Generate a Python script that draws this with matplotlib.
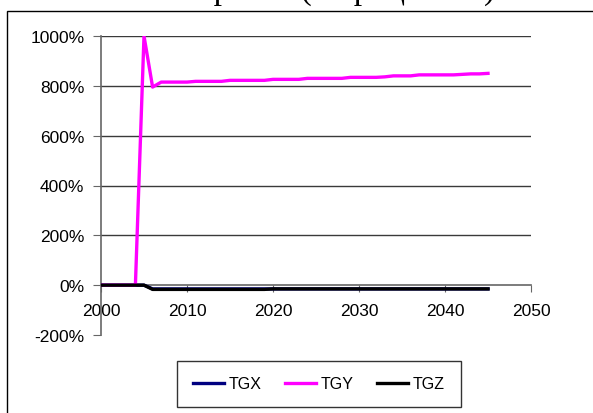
import matplotlib
matplotlib.use("Agg")
import matplotlib.pyplot as plt
from matplotlib.patches import Rectangle
from matplotlib.ticker import FuncFormatter

years = list(range(2000, 2046))
tgy = [0, 0, 0, 0, 0, 1000, 795, 815, 815, 815,
       815, 818, 818, 818, 818, 822, 822, 822, 822, 822,
       826, 826, 826, 826, 830, 830, 830, 830, 830, 834,
       834, 834, 834, 836, 840, 840, 840, 844, 844, 844,
       844, 844, 846, 848, 848, 850]
tgx = [0, 0, 0, 0, 0, 0] + [-15] * 40
tgz = [0, 0, 0, 0, 0, 0] + [-17] * 14 + [-15] * 26
series_names = ["TGX", "TGY", "TGZ"]
y_ticks = [-200, 0, 200, 400, 600, 800, 1000]
x_ticks = [2000, 2010, 2020, 2030, 2040, 2050]
title = "Темпы роста (в процентах)"

W, H = 593, 414
fig = plt.figure(figsize=(W / 100, H / 100), dpi=100)
plt.rcParams['font.family'] = ['Liberation Sans', 'DejaVu Sans']

# outer chart border (partially cropped)
fig.patches.append(Rectangle((7 / W, -0.05), 1.2, 1 - 12 / H + 0.05,
                             transform=fig.transFigure, fill=False,
                             edgecolor='black', linewidth=1.0))
fig.text(0.51, 1 + 1 / H, title, ha='center', va='baseline',
         fontsize=24, family=['Liberation Serif', 'DejaVu Serif'])

ax = fig.add_axes([101 / W, 1 - 336 / H, (531 - 101) / W, (336 - 37) / H])
ax.set_xlim(2000, 2050)
ax.set_ylim(-200, 1000)

for v in y_ticks[2:]:
    ax.axhline(v, color='#3a3a3a', linewidth=1.0, zorder=1)

ax.plot(years, tgx, color='#000080', linewidth=2.4, label=series_names[0], zorder=3)
ax.plot(years, tgy, color='#ff00ff', linewidth=2.4, label=series_names[1], zorder=3)
ax.plot(years, tgz, color='#000000', linewidth=2.4, label=series_names[2], zorder=4)

for s in ['top', 'right']:
    ax.spines[s].set_visible(False)
ax.spines['left'].set_position(('data', 2000))
ax.spines['bottom'].set_position(('data', 0))
for s in ['left', 'bottom']:
    ax.spines[s].set_color('#666666')
    ax.spines[s].set_linewidth(1.2)

ax.set_yticks(y_ticks)
ax.yaxis.set_major_formatter(FuncFormatter(lambda v, p: f"{int(v)}%"))
ax.set_xticks(x_ticks)
ax.tick_params(axis='y', direction='out', length=6, color='#666666', labelsize=12.5, pad=6)
ax.tick_params(axis='x', direction='out', length=5, color='#666666', labelsize=12.5, pad=8)

leg = ax.legend(loc='center', bbox_to_anchor=((178 + 460) / 2 / W, 1 - 385 / H),
                bbox_transform=fig.transFigure, ncol=3, frameon=True, fancybox=False,
                edgecolor='black', fontsize=11.5, handlelength=1.9, columnspacing=1.5,
                borderpad=1.0, handletextpad=0.3)
leg.get_frame().set_linewidth(1.0)

fig.savefig("out.png", dpi=100)
